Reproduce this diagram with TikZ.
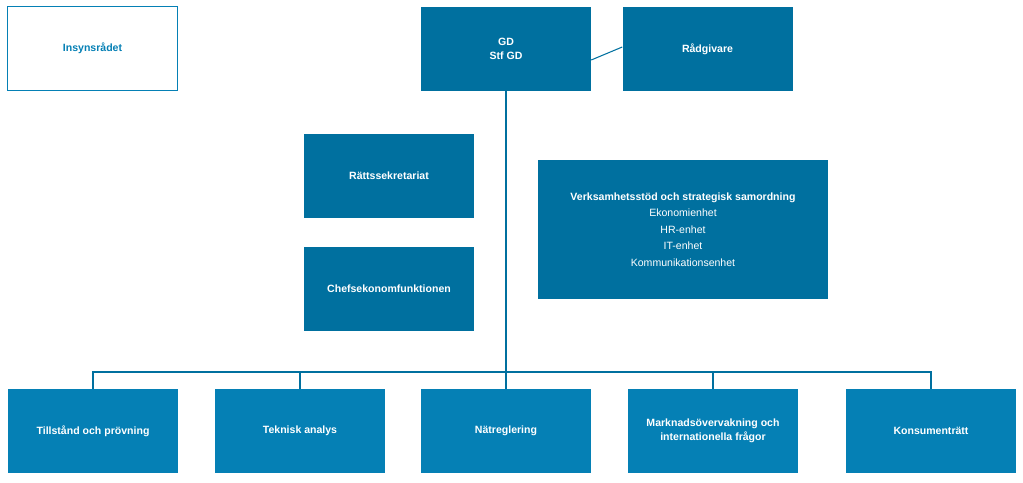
\documentclass[tikz,border=0pt]{standalone}
\usepackage{fontspec}
\setmainfont{Liberation Sans}
\usetikzlibrary{positioning}

\definecolor{topblue}{HTML}{00709F}
\definecolor{lowblue}{HTML}{0580B5}

\begin{document}
\begin{tikzpicture}[x=0.03cm,y=-0.03cm,
  unit/.style={fill=topblue,text=white,font=\fontsize{9}{12}\selectfont\bfseries,align=center,
    minimum width=170*0.03cm,minimum height=84*0.03cm,inner sep=0pt},
  dept/.style={unit,fill=lowblue},
  link/.style={topblue,line width=0.9pt}]

\useasboundingbox (0,0) rectangle (1023,483);

\node[unit,fill=white,draw=lowblue,text=lowblue,line width=0.8pt] (insyn) at (92.5,48) {Insynsrådet};
\node[unit] (gd) at (506,49) {GD\\Stf GD};
\node[unit] (rad) at (707.5,49) {Rådgivare};
\node[unit] (ratt) at (389,176) {Rättssekretariat};
\node[unit] (chef) at (389,289) {Chefsekonomfunktionen};
\node[unit,minimum width=290*0.03cm,minimum height=139*0.03cm,font=\fontsize{9}{14}\selectfont] (verk) at (683,229.5)
  {\textbf{Verksamhetsstöd och strategisk samordning}\\Ekonomienhet\\HR-enhet\\IT-enhet\\Kommunikationsenhet};

\node[dept] (till) at (93,431) {Tillstånd och prövning};
\node[dept] (tek) at (300,431) {Teknisk analys};
\node[dept] (nat) at (506,431) {Nätreglering};
\node[dept] (mark) at (713,431) {Marknadsövervakning och\\internationella frågor};
\node[dept] (kons) at (931,431) {Konsumenträtt};

\coordinate (hub) at (506,372);
\draw[link] (gd.south) -- (hub);
\draw[link] (gd.east |- 0,60) -- (rad.west |- 0,47);
\draw[link] (till.north) |- (kons.north |- hub) -- (kons.north);
\foreach \d in {tek,nat,mark}
  \draw[link] (\d.north) -- (\d.north |- hub);

\end{tikzpicture}
\end{document}
